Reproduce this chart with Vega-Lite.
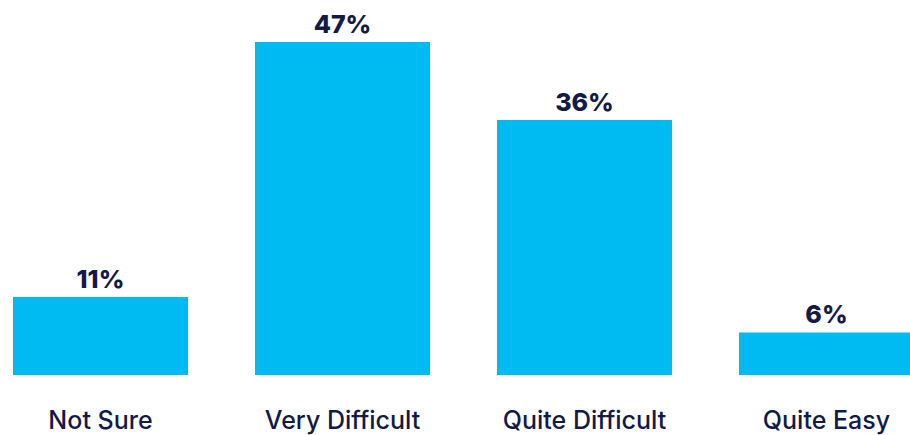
{
  "$schema": "https://vega.github.io/schema/vega-lite/v6.json",
  "width": 927,
  "height": 375,
  "padding": {"left": 0, "top": 0, "right": 0, "bottom": 60},
  "autosize": {"type": "none"},
  "background": "white",
  "config": {"view": {"stroke": null}},
  "data": {"values": [
    {"category": "Not Sure", "value": 11, "label": "11%"},
    {"category": "Very Difficult", "value": 47, "label": "47%"},
    {"category": "Quite Difficult", "value": 36, "label": "36%"},
    {"category": "Quite Easy", "value": 6, "label": "6%"}
  ]},
  "encoding": {
    "x": {
      "field": "category", "type": "nominal", "sort": null,
      "scale": {"paddingInner": 0.2769, "paddingOuter": 0.0537},
      "axis": {
        "title": null, "domain": false, "ticks": false, "labelAngle": 0,
        "labelFont": "Inter", "labelFontSize": 25, "labelFontWeight": 500, "labelColor": "#141A46",
        "labelBaseline": "alphabetic", "labelPadding": 53
      }
    },
    "y": {
      "field": "value", "type": "quantitative",
      "scale": {"domain": [0, 52.93], "nice": false, "zero": true},
      "axis": null
    }
  },
  "layer": [
    {"mark": {"type": "bar", "color": "#00BBF2"}},
    {"mark": {"type": "text", "baseline": "alphabetic", "dy": -9, "font": "Inter", "fontWeight": 800, "fontSize": 25, "color": "#141A46"},
     "encoding": {"text": {"field": "label"}}}
  ]
}
